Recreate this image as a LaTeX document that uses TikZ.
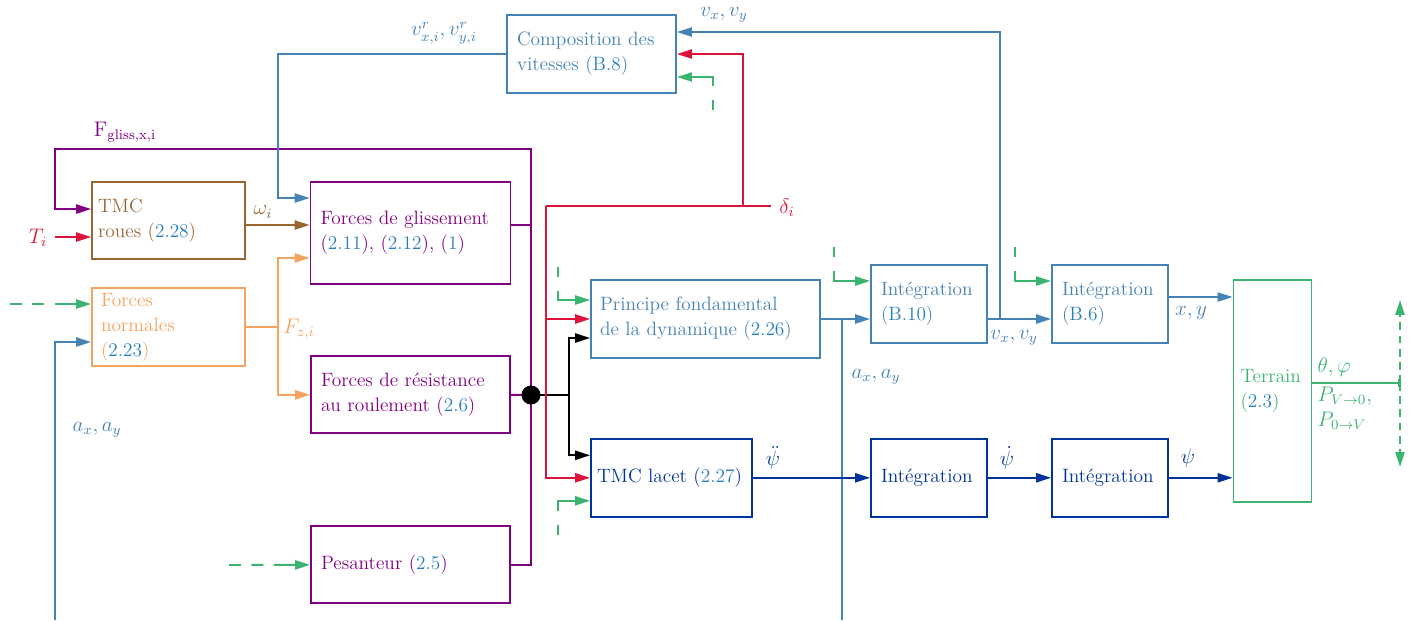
\documentclass[tikz,border=0pt]{standalone}
\usepackage{amsmath}
\usetikzlibrary{arrows.meta,calc}
\definecolor{cblue}{RGB}{70,130,180}
\definecolor{refblue}{RGB}{38,125,185}
\definecolor{cpurple}{RGB}{128,0,128}
\definecolor{cbrown}{RGB}{153,102,51}
\definecolor{corange}{RGB}{244,164,96}
\definecolor{cred}{RGB}{220,20,60}
\definecolor{cgreen}{RGB}{60,179,113}
\definecolor{cdark}{RGB}{0,51,153}
\newcommand{\refno}[1]{\textcolor{refblue}{#1}}

\begin{document}
\begin{tikzpicture}[x=0.02cm, y=-0.02cm, line width=1.1pt,
    >={Triangle[length=8.5pt,width=5.2pt]},
    font=\fontsize{11}{14.2}\selectfont,
    blk/.style={draw, align=left, inner xsep=0.2cm, inner ysep=0pt},
    lbl/.style={inner sep=1pt, font=\fontsize{12}{14.2}\selectfont},
    gdash/.style={cgreen, dash pattern=on 6.8pt off 6pt on 6.8pt off 6pt on 200pt off 0pt},
    gshort/.style={cgreen, dash pattern=on 5.7pt off 8pt on 200pt off 0pt},
    gtick/.style={cgreen, dash pattern=on 4.5pt off 3pt}]
  \useasboundingbox (0,0) rectangle (1416,620);

  \node[blk, cblue, text width=2.98cm, minimum height=1.56cm] (comp) at (591.5,54) {Composition des\\vitesses (\refno{B.8})};
  \node[blk, cbrown, inner xsep=0.12cm, text width=2.82cm, minimum height=1.54cm] (tmcr) at (168.5,220.5) {TMC\\roues (\refno{2.28})};
  \node[blk, cpurple, text width=3.6cm, minimum height=2.04cm] (fglis) at (410.5,233) {Forces de glissement\\(\refno{2.11}), (\refno{2.12}), (\refno{1})};
  \node[blk, corange, inner xsep=0.18cm, text width=2.7cm, minimum height=1.56cm] (fnorm) at (168.5,327) {Forces\\normales\\(\refno{2.23})};
  \node[blk, cpurple, text width=3.58cm, minimum height=1.54cm] (fres) at (410.5,394.8) {Forces de résistance\\au roulement (\refno{2.6})};
  \node[blk, cpurple, text width=3.58cm, minimum height=1.54cm] (pes) at (410.5,564.8) {Pesanteur (\refno{2.5})};
  \node[blk, cblue, inner xsep=0.18cm, text width=4.22cm, minimum height=1.56cm] (pfd) at (705.5,319) {Principe fondamental\\de la dynamique (\refno{2.26})};
  \node[blk, cdark, inner xsep=0.12cm, text width=2.98cm, minimum height=1.56cm] (lacet) at (671.5,477.8) {TMC lacet (\refno{2.27})};
  \node[blk, cblue, text width=1.92cm, minimum height=1.56cm] (intv) at (929,304) {Intégration\\(\refno{B.10})};
  \node[blk, cblue, text width=1.92cm, minimum height=1.56cm] (intp) at (1110,304) {Intégration\\(\refno{B.6})};
  \node[blk, cdark, text width=1.92cm, minimum height=1.56cm] (intdd) at (929,477.8) {Intégration};
  \node[blk, cdark, text width=1.92cm, minimum height=1.56cm] (intd) at (1110,477.8) {Intégration};
  \node[blk, cgreen, inner xsep=0.14cm, text width=1.28cm, minimum height=4.44cm] (terr) at (1272.5,390.8) {Terrain\\(\refno{2.3})};

  \coordinate (junc) at (531,395);
  \coordinate (fbk) at (55,149);
  \coordinate (fgo) at ($(fglis.east)+(0,-8)$);
  \draw[cpurple] (pes.east) -| (junc);
  \draw[cpurple] (fres.east) -- (junc);
  \draw[cpurple] (fgo) -- (fgo -| junc);
  \draw[cpurple, ->] (junc) |- (fbk) |- ($(tmcr.west)+(0,-11.5)$);

  \coordinate (split) at (569,395);
  \draw[->] (junc) -- (split) |- ($(pfd.west)+(0,19)$);
  \draw[->] (split) |- ($(lacet.west)+(0,-22.5)$);

  \coordinate (dlt) at (771,206);
  \coordinate (dbus) at (546,206);
  \coordinate (dup) at (743,206);
  \draw[cred] (dlt) -- (dbus);
  \draw[cred, ->] (dup) |- (comp.east);
  \draw[cred, ->] (dbus) |- (pfd.west);
  \draw[cred, ->] (dbus) |- (lacet.west);
  \coordinate (tin) at (55,237);
  \draw[cred, ->] (tin) -- (tin -| tmcr.west);

  \coordinate (om) at ($(tmcr.east)+(0,4.5)$);
  \draw[cbrown, ->] (om) -- (om -| fglis.west);

  \coordinate (fz) at (278,327);
  \draw[corange] (fnorm.east) -- (fz);
  \draw[corange, ->] (fz) |- ($(fglis.west)+(0,25)$);
  \draw[corange, ->] (fz) |- (fres.west);

  \coordinate (vrin) at ($(fglis.west)+(0,-35)$);
  \draw[cblue, ->] (comp.west) -| ($(vrin)+(-32,0)$) -- (vrin);
  \coordinate (axl) at (55,620);
  \draw[cblue, ->] (axl) |- ($(fnorm.west)+(0,15)$);
  \draw[cblue, ->] (pfd.east) -- (pfd.east -| intv.west);
  \coordinate (axs) at (842,319);
  \coordinate (axb) at (842,620);
  \draw[cblue] (axs) -- (axb);
  \coordinate (vxo) at ($(intv.east)+(0,15)$);
  \draw[cblue, ->] (vxo) -- (vxo -| intp.west);
  \coordinate (vxs) at (1000,319);
  \draw[cblue, ->] (vxs) |- ($(comp.east)+(0,-22)$);
  \coordinate (xyo) at ($(intp.east)+(0,-7)$);
  \draw[cblue, ->] (xyo) -- (xyo -| terr.west);

  \draw[cdark, ->] (lacet.east) -- (intdd.west);
  \draw[cdark, ->] (intdd.east) -- (intd.west);
  \draw[cdark, ->] (intd.east) -- (intd.east -| terr.west);

  \coordinate (gn) at (10,304);
  \draw[gdash, ->] (gn) -- (gn -| fnorm.west);
  \coordinate (gp) at (229,565);
  \draw[gdash, ->] (gp) -- (pes.west);
  \coordinate (gc) at (713,110);
  \draw[gshort, ->] (gc) |- ($(comp.east)+(0,23)$);
  \coordinate (gpf) at (558,267);
  \draw[gshort, ->] (gpf) |- ($(pfd.west)+(0,-19)$);
  \coordinate (gla) at (558,535);
  \draw[gshort, ->] (gla) |- ($(lacet.west)+(0,23)$);
  \coordinate (giv) at (834,247);
  \draw[gshort, ->] (giv) |- ($(intv.west)+(0,-23)$);
  \coordinate (gip) at (1015,247);
  \draw[gshort, ->] (gip) |- ($(intp.west)+(0,-23)$);
  \coordinate (tbar) at (1400,383);
  \draw[cgreen, -{Bar[width=5pt]}] ($(terr.east)+(0,-7.8)$) -- (tbar);
  \coordinate (tup) at (1400,300);
  \coordinate (tdn) at (1400,467);
  \draw[gtick, ->] (tbar) -- (tup);
  \draw[gtick, ->] (tbar) -- (tdn);

  \node[circle, fill=black, inner sep=0pt, minimum size=0.38cm] (dot) at (junc) {};

  \node[lbl, cblue] (lvr) at (444,33) {$v^r_{x,i}, v^r_{y,i}$};
  \node[lbl, cpurple] (lfg) at (125,132) {$\mathrm{F}_{\text{gliss,x,i}}$};
  \node[lbl, cbrown] (lom) at (263,212) {$\omega_i$};
  \node[lbl, cred] (lti) at (38,238) {$T_i$};
  \node[lbl, corange] (lfz) at (299,329) {$F_{z,i}$};
  \node[lbl, cblue] (lax1) at (97,430) {$a_x, a_y$};
  \node[lbl, cred] (ldl) at (787,208) {$\delta_i$};
  \node[lbl, cblue] (lvx1) at (724,15) {$v_x, v_y$};
  \node[lbl, cblue] (lvx2) at (1014,338) {$v_x, v_y$};
  \node[lbl, cblue] (lax2) at (876,377) {$a_x, a_y$};
  \node[lbl, cblue] (lxy) at (1191,313) {$x, y$};
  \node[lbl, cdark] (lpdd) at (773,458) {$\ddot\psi$};
  \node[lbl, cdark] (lpd) at (1007,458) {$\dot\psi$};
  \node[lbl, cdark] (lp) at (1188,458) {$\psi$};
  \node[lbl, cgreen, anchor=west] (ltp) at (1315,367) {$\theta, \varphi$};
  \node[lbl, cgreen, anchor=west, align=left] (lpv) at (1315,408) {$P_{V\rightarrow 0}$,\\$P_{0\rightarrow V}$};
\end{tikzpicture}
\end{document}
